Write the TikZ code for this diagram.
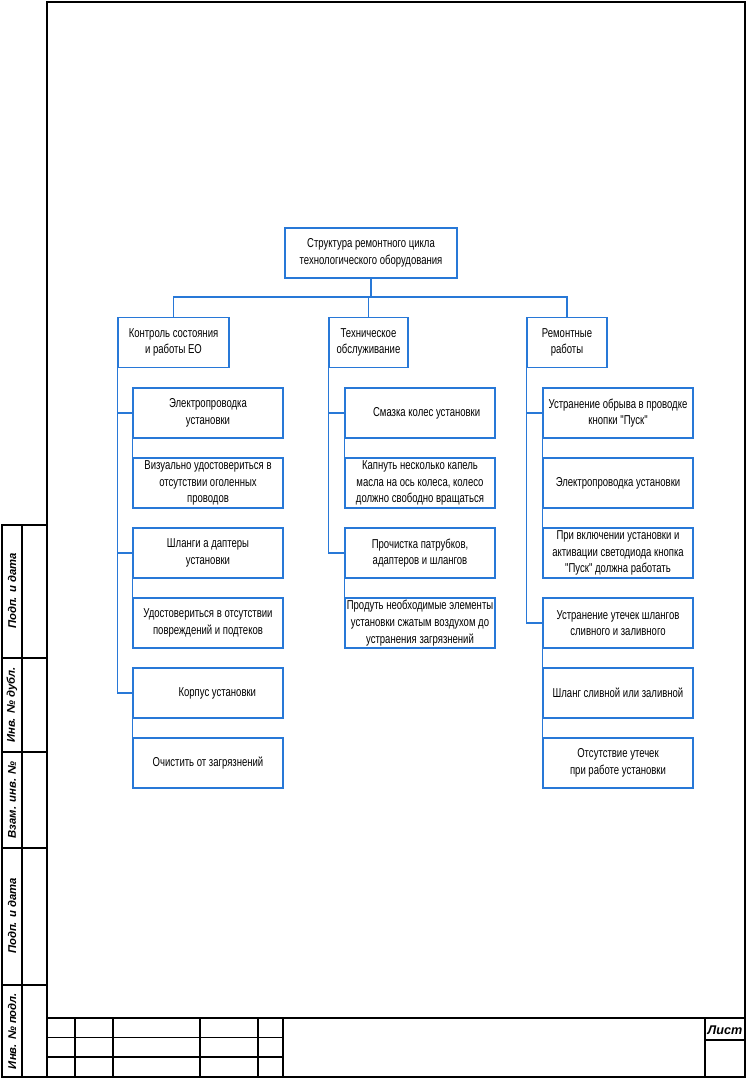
\documentclass[tikz,border=0pt]{standalone}
\usepackage{fontspec}
\setmainfont{Liberation Sans}
\newfontfamily\boxfont{Liberation Sans}[FakeStretch=0.74]
\usetikzlibrary{positioning}
\definecolor{boxblue}{RGB}{40,120,215}

\begin{document}
\begin{tikzpicture}[x=0.02646cm,y=-0.02646cm,
  blk/.style={draw=boxblue,line width=0.9pt,minimum height=1.32cm,align=center,inner xsep=0.5pt,inner ysep=1pt,
    font=\boxfont\fontsize{9.7}{12.5}\selectfont},
  item/.style={blk,minimum width=3.97cm},
  link/.style={draw=boxblue,line width=0.9pt},
  thick frame/.style={line width=1.5pt},
  thin frame/.style={line width=0.6pt},
  stamplbl/.style={font=\fontsize{8.5}{10}\selectfont\bfseries\itshape,inner sep=0pt}]
  \useasboundingbox (0,0) rectangle (747,1079);

  % Frame
  \draw[thick frame] (47,2) rectangle (745,1077);
  \draw[thick frame] (2,525) rectangle (47,1077);
  \draw[thick frame] (22,525) -- (22,1077);
  \draw[thick frame] (2,658) -- (47,658) (2,752) -- (47,752) (2,848) -- (47,848) (2,985) -- (47,985);
  \node[rotate=90,stamplbl] (s1) at (12,591) {Подп. и дата};
  \node[rotate=90,stamplbl] (s2) at (12,705) {Инв. № дубл.};
  \node[rotate=90,stamplbl] (s3) at (12,800) {Взам. инв. №};
  \node[rotate=90,stamplbl] (s4) at (12,916) {Подп. и дата};
  \node[rotate=90,stamplbl] (s5) at (12,1031) {Инв. № подл.};

  % Title block
  \draw[thick frame] (47,1018) -- (745,1018);
  \draw[thin frame] (47,1037) -- (283,1037);
  \draw[thick frame] (47,1057) -- (283,1057);
  \foreach \xx in {75,113,200,258,283,705}
    \draw[thick frame] (\xx,1018) -- (\xx,1077);
  \draw[thick frame] (705,1040) -- (745,1040);
  \node[stamplbl,font=\fontsize{9.5}{11}\selectfont\bfseries\itshape] (list) at (725,1030) {Лист};

  % Top of the tree
  \node[blk,minimum width=4.55cm] (title) at (371,253) {Структура ремонтного цикла\\технологического оборудования};
  \node[blk,minimum width=2.94cm] (hA) at (173.5,342.5) {Контроль состояния\\и работы ЕО};
  \node[blk,minimum width=2.09cm] (hB) at (368.5,342.5) {Техническое\\обслуживание};
  \node[blk,minimum width=2.12cm] (hC) at (567,342.5) {Ремонтные\\работы};
  \coordinate (br) at (371,297);

  % Column A
  \node[item] (a1) at (208,413) {Электропроводка\\установки};
  \node[item] (a2) at (208,483) {Визуально удостовериться в\\отсутствии оголенных\\проводов};
  \node[item] (a3) at (208,553) {Шланги а даптеры\\установки};
  \node[item] (a4) at (208,623) {Удостовериться в отсутствии\\повреждений и подтеков};
  \node[item] (a5) at (208,693) {\hspace{14pt}Корпус установки};
  \node[item] (a6) at (208,763) {Очистить от загрязнений};

  % Column B
  \node[item] (b1) at (420,413) {\hspace{10pt}Смазка колес установки};
  \node[item] (b2) at (420,483) {Капнуть несколько капель\\масла на ось колеса, колесо\\должно свободно вращаться};
  \node[item] (b3) at (420,553) {Прочистка патрубков,\\адаптеров и шлангов};
  \node[item] (b4) at (420,623) {Продуть необходимые элементы\\установки сжатым воздухом до\\устранения загрязнений};

  % Column C
  \node[item] (c1) at (618,413) {Устранение обрыва в проводке\\кнопки "Пуск"};
  \node[item] (c2) at (618,483) {Электропроводка установки};
  \node[item] (c3) at (618,553) {При включении установки и\\активации светодиода кнопка\\"Пуск" должна работать};
  \node[item] (c4) at (618,623) {Устранение утечек шлангов\\сливного и заливного};
  \node[item] (c5) at (618,693) {Шланг сливной или заливной};
  \node[item] (c6) at (618,763) {Отсутствие утечек\\при работе установки};

  % Connectors
  \draw[link] (title.south) -- (br);
  \draw[link] (hA.north) |- (br) -| (hC.north);
  \draw[link] (hB.north) -- (hB.north |- br);

  \draw[link] (hA.south west) |- (a1.west);
  \draw[link] (hA.south west) |- (a3.west);
  \draw[link] (hA.south west) |- (a5.west);
  \draw[link] (hB.south west) |- (b1.west);
  \draw[link] (hB.south west) |- (b3.west);
  \draw[link] (hC.south west) |- (c1.west);
  \draw[link] (hC.south west) |- (c4.west);

  \draw[link] (a1.south west) -- (a2.north west);
  \draw[link] (a3.south west) -- (a4.north west);
  \draw[link] (a5.south west) -- (a6.north west);
  \draw[link] (b1.south west) -- (b2.north west);
  \draw[link] (b3.south west) -- (b4.north west);
  \draw[link] (c1.south west) -- (c2.north west);
  \draw[link] (c2.south west) -- (c3.north west);
  \draw[link] (c4.south west) -- (c5.north west);
  \draw[link] (c5.south west) -- (c6.north west);

\end{tikzpicture}
\end{document}
